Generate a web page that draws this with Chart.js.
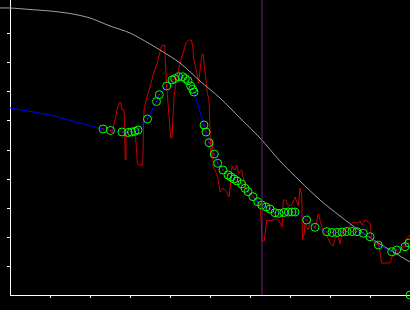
<!DOCTYPE html>
<html>
<head>
<meta charset="utf-8">
<script src="https://cdn.jsdelivr.net/npm/chart.js@4/dist/chart.umd.min.js"></script>
<style>
html,body{margin:0;padding:0;background:#000;}
canvas{display:block;}
</style>
</head>
<body>
<canvas id="c" width="410" height="310"></canvas>
<script>
// tick positions (no labels shown in the reference)
const xTicks = [1,2,3,4,5,6,7,8,9];
const yTicks = [1,2,3,4,5,6,7,8,9];

// gray reference curve
const grayX = [-0.25,0,0.5,1,1.5,2,2.5,3,3.5,3.75,4.25,4.75,5.25,5.75,6.25,6.75,7.25,7.75,8.25,8.75,9.25,9.75,10];
const grayY = [9.897,9.897,9.845,9.793,9.707,9.552,9.276,9.034,8.655,8.448,8.0,7.379,6.793,6.103,5.414,4.621,3.931,3.276,2.724,2.207,1.759,1.345,1.138];

// blue lead-in line before the fitted points
const leadX = [0,1,1.75,2.325];
const leadY = [6.45,6.21,5.93,5.724];

// fitted points (green circles, joined by blue line)
const fitX = [2.325,2.5125,2.8,2.95,3.0375,3.125,3.2,3.4375,3.6625,3.7325,3.9175,4.05,4.1175,4.2175,4.3175,4.3825,4.45,4.5175,4.5675,4.6,4.85,4.9,4.975,5.1075,5.1925,5.325,5.45,5.525,5.6,5.675,5.7925,5.875,5.95,6.075,6.1925,6.2925,6.4,6.5,6.625,6.725,6.85,6.9575,7.05,7.125,7.4175,7.625,7.9175,8.05,8.175,8.3,8.425,8.55,8.675,8.8325,9.0,9.2075,9.5425,9.6675,9.875,9.975];
const fitY = [5.724,5.672,5.621,5.603,5.621,5.645,5.690,6.069,6.672,6.907,7.207,7.414,7.459,7.528,7.528,7.459,7.390,7.207,7.093,7.0,5.862,5.621,5.252,4.862,4.541,4.310,4.138,4.069,4.0,3.931,3.828,3.679,3.562,3.390,3.217,3.103,3.034,2.966,2.838,2.817,2.845,2.862,2.862,2.862,2.586,2.334,2.183,2.155,2.155,2.172,2.190,2.190,2.183,2.128,2.010,1.724,1.493,1.552,1.666,1.793];

// stray point at the bottom-right corner
const strayX = [10];
const strayY = [0];

// red measured signal
const redX = [2.55,2.625,2.675,2.7325,2.775,2.8,2.85,2.8825,2.9,3.125,3.15,3.1825,3.225,3.3175,3.35,3.4175,3.5,3.5825,3.6825,3.75,3.7925,3.8675,3.8825,3.9175,3.9825,4.0175,4.05,4.075,4.1,4.15,4.2325,4.3325,4.4,4.4675,4.5325,4.5675,4.6,4.6675,4.7175,4.75,4.8,4.8325,4.85,4.9,4.9325,4.975,5.0,5.025,5.05,5.0675,5.0825,5.125,5.2,5.25,5.325,5.4175,5.475,5.5075,5.55,5.625,5.675,5.7075,5.7925,5.8325,5.9175,6.0825,6.1675,6.25,6.2825,6.3,6.3575,6.4175,6.5,6.625,6.6925,6.75,6.8075,6.8325,6.8925,6.9575,7.0425,7.125,7.2075,7.25,7.2925,7.3125,7.3575,7.375,7.4575,7.5,7.5825,7.625,7.7075,7.7925,7.8325,7.9175,8.0,8.0825,8.125,8.2075,8.25,8.2925,8.375,8.5,8.5825,8.6675,8.75,8.7925,8.875,8.9575,9.0,9.0425,9.125,9.2075,9.25,9.2925,9.4175,9.5,9.5425,9.625,9.7075,9.7925,9.8325,9.9175,9.9575,10.0];
const redY = [5.586,6.034,6.379,6.631,6.631,6.379,6.379,4.655,5.621,5.621,5.276,4.552,4.483,4.483,6.379,6.793,7.172,7.621,8.0,8.379,8.586,8.621,8.103,7.172,6.034,5.414,5.414,6.138,6.828,7.345,7.897,8.379,8.690,8.793,8.793,8.586,8.103,7.690,7.310,7.759,8.310,8.310,7.966,7.414,6.966,6.724,5.690,4.724,5.345,5.103,4.414,4.310,4.034,3.552,3.690,3.552,3.379,3.724,4.448,4.310,4.483,4.207,4.310,4.034,3.621,3.379,3.276,3.034,2.517,1.862,1.862,2.586,2.552,2.621,2.621,2.483,2.345,3.276,3.276,3.069,3.103,3.379,3.069,3.690,3.448,1.897,2.138,2.483,2.241,2.517,2.379,2.276,2.793,2.379,2.172,2.069,1.793,1.690,1.966,2.034,1.759,2.069,2.241,2.379,2.517,2.483,2.552,2.414,2.586,2.517,2.483,1.966,1.724,1.793,1.448,1.103,1.103,1.103,1.310,1.379,1.483,1.586,1.690,1.966,2.0,2.069];

// vertical marker position
const markerX = 6.3;

const Y_MAX = 295/29;
const pts = (xs, ys) => xs.map((x, i) => ({x, y: ys[i]}));

const tickScale = (vals) => ({
  type: 'linear',
  ticks: { display: false },
  grid: { display: true, drawOnChartArea: false, drawTicks: true, tickLength: 3, tickColor: '#ffffff', tickWidth: 1 },
  border: { display: true, color: '#ffffff', width: 1 },
  afterBuildTicks: (s) => { s.ticks = vals.map(v => ({value: v})); }
});

const xScale = Object.assign(tickScale(xTicks), { min: 0, max: 10 });
const yScale = Object.assign(tickScale(yTicks), { min: 0, max: Y_MAX });

new Chart(document.getElementById('c'), {
  type: 'scatter',
  data: {
    datasets: [
      { data: [{x: markerX, y: 0}, {x: markerX, y: Y_MAX}], showLine: true, borderColor: '#7d1f7d', borderWidth: 1, pointRadius: 0, order: -1 },
      { data: pts(fitX, fitY), showLine: false, pointRadius: 4, pointBorderWidth: 1, pointBorderColor: '#00ff00', pointBackgroundColor: 'rgba(0,0,0,0)', order: 0 },
      { data: pts(strayX, strayY), showLine: false, pointRadius: 4, pointBorderWidth: 1, pointBorderColor: '#00ff00', pointBackgroundColor: 'rgba(0,0,0,0)', clip: false, order: 0 },
      { data: pts(fitX, fitY), showLine: false, pointRadius: 0.8, pointBorderWidth: 0, pointBackgroundColor: '#e00000', order: 1 },
      { data: pts(fitX, fitY), showLine: true, borderColor: '#0000ff', borderWidth: 1, pointRadius: 0, tension: 0, order: 2 },
      { data: pts(leadX, leadY), showLine: true, borderColor: '#0000ff', borderWidth: 1, pointRadius: 0, tension: 0, order: 2 },
      { data: pts(grayX, grayY), showLine: true, borderColor: '#a0a0a0', borderWidth: 1, pointRadius: 0, tension: 0.3, clip: false, order: 3 },
      { data: pts(redX, redY), showLine: true, borderColor: '#c80000', borderWidth: 1, pointRadius: 0, tension: 0, order: 4 }
    ]
  },
  options: {
    responsive: false,
    animation: false,
    events: [],
    layout: { autoPadding: false, padding: { left: 7, right: 0, top: 0, bottom: 12 } },
    plugins: { legend: { display: false }, tooltip: { enabled: false } },
    scales: { x: xScale, y: yScale }
  }
});
</script>
</body>
</html>
